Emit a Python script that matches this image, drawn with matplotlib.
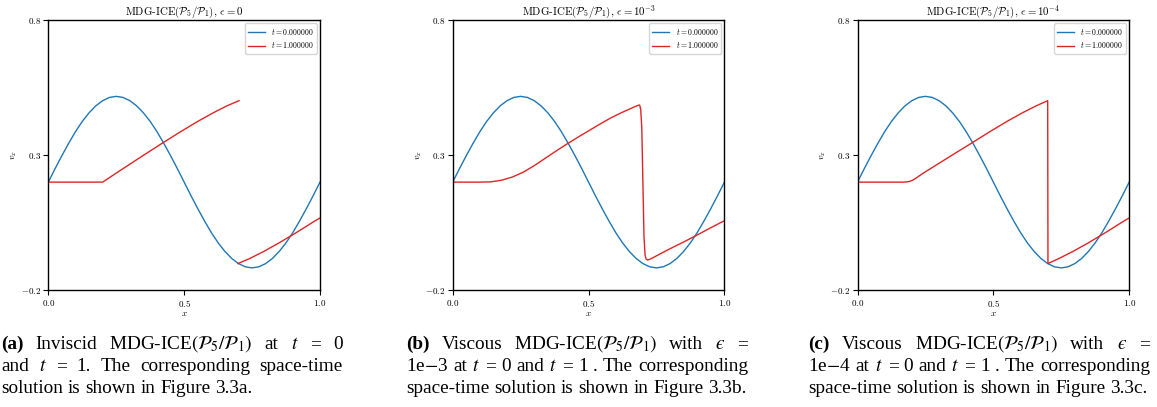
import re
import numpy as np
import matplotlib
matplotlib.use("Agg")
import matplotlib.pyplot as plt

plt.rcParams["mathtext.fontset"] = "cm"
plt.rcParams["font.family"] = "serif"
plt.rcParams["font.serif"] = ["cmr10", "DejaVu Serif"]
plt.rcParams["axes.unicode_minus"] = False
plt.rcParams["axes.formatter.use_mathtext"] = True

# initial condition t = 0 (same in every panel), sampled every 0.025
x_init = np.linspace(0.0, 1.0, 41)
v_init = [0.200, 0.250, 0.298, 0.344, 0.387, 0.425, 0.457, 0.483, 0.502, 0.514,
          0.518, 0.514, 0.502, 0.483, 0.457, 0.425, 0.387, 0.344, 0.298, 0.250,
          0.200, 0.150, 0.102, 0.056, 0.013, -0.025, -0.057, -0.083, -0.102, -0.114,
          -0.118, -0.114, -0.102, -0.083, -0.057, -0.025, 0.013, 0.056, 0.102, 0.150,
          0.200]

# t = 1, inviscid (two pieces, shock at x = 0.7)
x_inv_left = [0.0, 0.2, 0.2375, 0.275, 0.348, 0.419, 0.487, 0.55, 0.607, 0.658, 0.702]
v_inv_left = [0.2, 0.2, 0.225, 0.25, 0.298, 0.344, 0.387, 0.425, 0.457, 0.483, 0.502]
x_inv_right = [0.698, 0.742, 0.793, 0.85, 0.913, 0.981, 1.0]
v_inv_right = [-0.102, -0.083, -0.057, -0.025, 0.013, 0.056, 0.067]

# t = 1, eps = 1e-3
x_visc3 = [0.0, 0.10, 0.14, 0.18, 0.22, 0.26, 0.30, 0.34, 0.38, 0.42, 0.46, 0.50,
           0.54, 0.58, 0.62, 0.66, 0.680, 0.688, 0.692, 0.696, 0.700, 0.704, 0.708,
           0.712, 0.718, 0.73, 0.76, 0.80, 0.85, 0.90, 0.95, 1.0]
v_visc3 = [0.2, 0.2, 0.201, 0.207, 0.219, 0.237, 0.261, 0.288, 0.315, 0.341, 0.366,
           0.390, 0.414, 0.437, 0.457, 0.475, 0.484, 0.486, 0.470, 0.400, 0.200, 0.000,
           -0.070, -0.086, -0.089, -0.084, -0.068, -0.047, -0.022, 0.004, 0.031, 0.057]

# t = 1, eps = 1e-4
x_visc4 = [0.0, 0.17, 0.19, 0.205, 0.22, 0.24, 0.275, 0.348, 0.419, 0.487, 0.55,
           0.607, 0.658, 0.700, 0.701, 0.742, 0.793, 0.85, 0.913, 0.981, 1.0]
v_visc4 = [0.2, 0.2, 0.202, 0.208, 0.218, 0.232, 0.254, 0.300, 0.344, 0.387, 0.425,
           0.457, 0.483, 0.502, -0.102, -0.083, -0.057, -0.025, 0.013, 0.056, 0.067]

titles = [r"MDG-ICE$(\mathcal{P}_5/\mathcal{P}_1)$, $\epsilon = 0$",
          r"MDG-ICE$(\mathcal{P}_5/\mathcal{P}_1)$, $\epsilon = 10^{-3}$",
          r"MDG-ICE$(\mathcal{P}_5/\mathcal{P}_1)$, $\epsilon = 10^{-4}$"]
legend_labels = [r"$t = 0.000000$", r"$t = 1.000000$"]
x_ticks = [0.0, 0.5, 1.0]
x_ticklabels = [r"$0.0$", r"$0.5$", r"$1.0$"]
y_ticks = [-0.2, 0.3, 0.8]
y_ticklabels = [r"$-0.2$", r"$0.3$", r"$0.8$"]

mdg = r"MDG-ICE$\left(\mathcal{P}_5/\mathcal{P}_1\right)$"
captions = [
    [r"(a) Inviscid " + mdg + r" at $t$ = 0",
     r"and $t$ = 1. The corresponding space-time",
     r"solution is shown in Figure 3.3a."],
    [r"(b) Viscous " + mdg + r" with $ϵ$ =",
     r"1e$-$3 at $t$ = 0 and $t$ = 1 . The corresponding",
     r"space-time solution is shown in Figure 3.3b."],
    [r"(c) Viscous " + mdg + r" with $ϵ$ =",
     r"1e$-$4 at $t$ = 0 and $t$ = 1 . The corresponding",
     r"space-time solution is shown in Figure 3.3c."],
]

BLUE = "#1f77b4"
RED = "#e02424"

W, H = 1157, 407
fig = plt.figure(figsize=(W / 100, H / 100), dpi=100)

lefts = [48.3, 452.7, 857.5]
ax_w, ax_top, ax_bot = 271.7, 20.3, 290.0

red_series = [
    [(x_inv_left, v_inv_left), (x_inv_right, v_inv_right)],
    [(x_visc3, v_visc3)],
    [(x_visc4, v_visc4)],
]

for i, left in enumerate(lefts):
    ax = fig.add_axes([left / W, 1 - ax_bot / H, ax_w / W, (ax_bot - ax_top) / H])
    ax.plot(x_init, v_init, color=BLUE, lw=1.0, label=legend_labels[0])
    for j, (xs, vs) in enumerate(red_series[i]):
        ax.plot(xs, vs, color=RED, lw=1.0, label=legend_labels[1] if j == 0 else None)
    ax.set_xlim(0, 1)
    ax.set_ylim(-0.2, 0.8)
    ax.set_xticks(x_ticks, labels=x_ticklabels)
    ax.set_yticks(y_ticks, labels=y_ticklabels)
    ax.tick_params(labelsize=6.5, pad=2, length=3.5, width=0.8)
    for sp in ax.spines.values():
        sp.set_linewidth(1.0)
    ax.set_title(titles[i], fontsize=7.8, pad=2.5)
    ax.set_xlabel(r"$x$", fontsize=6.5, labelpad=1)
    ax.set_ylabel(r"$v_x$", fontsize=6.5, labelpad=1)
    ax.legend(loc="upper right", fontsize=5.6, handlelength=2.2, borderaxespad=0.4)


def draw_caption(lines, x0, x1, baselines, size=13.9):
    renderer = fig.canvas.get_renderer()
    space = 0.25 * size * 100 / 72
    for k, (line, yb) in enumerate(zip(lines, baselines)):
        texts = []
        for tok in line.split(" "):
            weight = "bold" if re.fullmatch(r"\([abc]\)", tok) else "normal"
            t = fig.text(0, 1 - yb / H, tok, fontsize=size, family="Liberation Serif",
                         math_fontfamily="stix", weight=weight, va="baseline", ha="left")
            texts.append(t)
        widths = [t.get_window_extent(renderer).width for t in texts]
        if k < len(lines) - 1:
            gap = (x1 - x0 - sum(widths)) / (len(texts) - 1)
        else:
            gap = space
        xpos = x0
        for t, w in zip(texts, widths):
            t.set_x(xpos / W)
            xpos += w + gap


caption_x = [(1.0, 343.0), (406.0, 748.0), (808.0, 1150.0)]
caption_baselines = [349.0, 371.0, 393.0]
for lines, (x0, x1) in zip(captions, caption_x):
    draw_caption(lines, x0, x1, caption_baselines)

fig.savefig("out.png", dpi=100)
